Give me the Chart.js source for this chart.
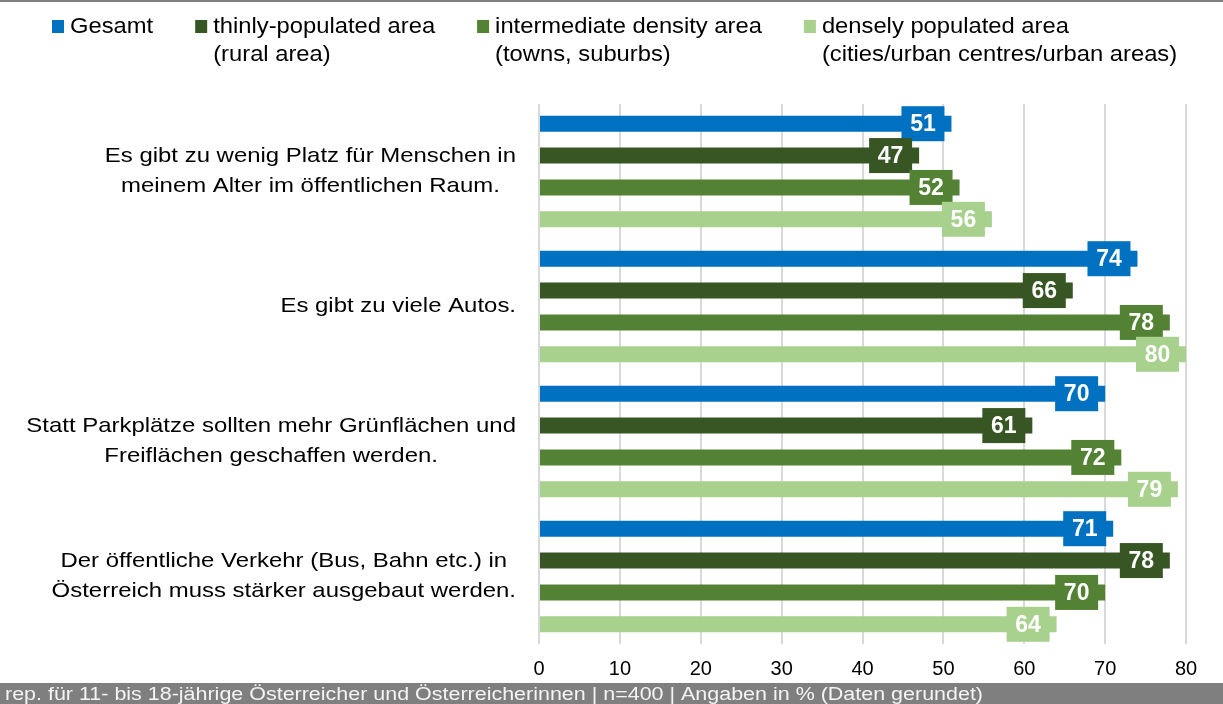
<!DOCTYPE html>
<html>
<head>
<meta charset="utf-8">
<script src="https://cdn.jsdelivr.net/npm/chart.js@4.4.1/dist/chart.umd.min.js"></script>
<style>
    html, body { margin: 0; padding: 0; background: #fff; }
    canvas { display: block; }
</style>
</head>
<body>
<canvas id="chart" width="1223" height="704"></canvas>
<script>
// Données
const categories = [
    ['Es gibt zu wenig Platz für Menschen in', 'meinem Alter im öffentlichen Raum.'],
    ['Es gibt zu viele Autos.'],
    ['Statt Parkplätze sollten mehr Grünflächen und', 'Freiflächen geschaffen werden.'],
    ['Der öffentliche Verkehr (Bus, Bahn etc.) in', 'Österreich muss stärker ausgebaut werden.']
];
const seriesNames = [
    ['Gesamt'],
    ['thinly-populated area', '(rural area)'],
    ['intermediate density area', '(towns, suburbs)'],
    ['densely populated area', '(cities/urban centres/urban areas)']
];
const gesamt = [51, 74, 70, 71];
const rural = [47, 66, 61, 78];
const towns = [52, 78, 72, 70];
const cities = [56, 80, 79, 64];
const xTicks = [0, 10, 20, 30, 40, 50, 60, 70, 80];
const footnote = 'rep. für 11- bis 18-jährige Österreicher und Österreicherinnen | n=400 | Angaben in % (Daten gerundet)';

// Couleurs
const colors = ['#0070C0', '#375623', '#548235', '#A9D18E'];
const FONT = '"Liberation Sans", Arial, sans-serif';

// texte étiré horizontalement
function scaledText(ctx, text, x, y, align, sx) {
    const w = ctx.measureText(text).width * sx;
    let left = x;
    if (align === 'center') left = x - w / 2;
    else if (align === 'right') left = x - w;
    ctx.save();
    ctx.translate(left, y);
    ctx.scale(sx, 1);
    ctx.textAlign = 'left';
    ctx.fillText(text, 0, 0);
    ctx.restore();
}

// étiquettes de valeur dans une boîte
const valueBoxes = {
    id: 'valueBoxes',
    afterDatasetsDraw(chart) {
        const ctx = chart.ctx;
        ctx.save();
        ctx.font = 'bold 23px ' + FONT;
        ctx.textAlign = 'center';
        ctx.textBaseline = 'middle';
        chart.data.datasets.forEach((ds, di) => {
            chart.getDatasetMeta(di).data.forEach((bar, i) => {
                const right = bar.x - 7;
                ctx.fillStyle = ds.backgroundColor;
                ctx.fillRect(right - 43, bar.y - 17.5, 43, 35);
                ctx.fillStyle = '#fff';
                ctx.fillText(String(ds.data[i]), right - 21.5, bar.y + 1);
            });
        });
        ctx.restore();
    }
};

// libellés des catégories, légende, bandeaux
const decorations = {
    id: 'decorations',
    afterDraw(chart) {
        const ctx = chart.ctx;
        const yScale = chart.scales.y;
        ctx.save();

        // libellés à gauche
        ctx.fillStyle = '#000';
        ctx.font = '21px ' + FONT;
        ctx.textBaseline = 'middle';
        const sx = 1.14;
        categories.forEach((lines, i) => {
            const yc = yScale.getPixelForValue(i);
            const block = Math.max(...lines.map(l => ctx.measureText(l).width * sx));
            const cx = 516 - block / 2;
            lines.forEach((l, j) => {
                scaledText(ctx, l, cx, yc + (j - (lines.length - 1) / 2) * 30, 'center', sx);
            });
        });

        // légende
        ctx.font = '22px ' + FONT;
        ctx.textBaseline = 'alphabetic';
        const lsx = 1.08;
        let x = 52;
        seriesNames.forEach((lines, i) => {
            ctx.fillStyle = colors[i];
            ctx.fillRect(x, 20, 12, 13);
            ctx.fillStyle = '#000';
            let w = 0;
            lines.forEach((l, j) => {
                scaledText(ctx, l, x + 18, 33 + j * 28, 'left', lsx);
                w = Math.max(w, ctx.measureText(l).width * lsx);
            });
            x += 18 + w + 42;
        });

        // bandeau haut
        ctx.fillStyle = '#808080';
        ctx.fillRect(0, 0, chart.width, 2);

        // bandeau bas
        ctx.fillStyle = '#7f7f7f';
        ctx.fillRect(0, 683, chart.width, 21);
        ctx.fillStyle = '#f4f4f4';
        ctx.font = '18px ' + FONT;
        const fsx = 978 / ctx.measureText(footnote).width;
        scaledText(ctx, footnote, 5, 700, 'left', fsx);

        ctx.restore();
    }
};

const ctx = document.getElementById('chart').getContext('2d');
new Chart(ctx, {
    type: 'bar',
    data: {
        labels: categories.map(c => c.join(' ')),
        datasets: [
            { label: seriesNames[0].join(' '), data: gesamt, backgroundColor: colors[0] },
            { label: seriesNames[1].join(' '), data: rural, backgroundColor: colors[1] },
            { label: seriesNames[2].join(' '), data: towns, backgroundColor: colors[2] },
            { label: seriesNames[3].join(' '), data: cities, backgroundColor: colors[3] }
        ]
    },
    options: {
        indexAxis: 'y',
        responsive: false,
        animation: false,
        layout: { padding: { left: 539, right: 37, top: 104, bottom: 10 } },
        datasets: { bar: { barPercentage: 0.5, categoryPercentage: 0.944 } },
        plugins: {
            legend: { display: false },
            tooltip: { enabled: false }
        },
        scales: {
            x: {
                min: 0,
                max: 80,
                afterBuildTicks: scale => { scale.ticks = xTicks.map(v => ({ value: v })); },
                ticks: { color: '#000', font: { family: FONT, size: 20 }, padding: 13 },
                grid: { color: '#d9d9d9', lineWidth: 2, drawTicks: false },
                border: { display: false }
            },
            y: {
                display: false
            }
        }
    },
    plugins: [valueBoxes, decorations]
});
</script>
</body>
</html>
